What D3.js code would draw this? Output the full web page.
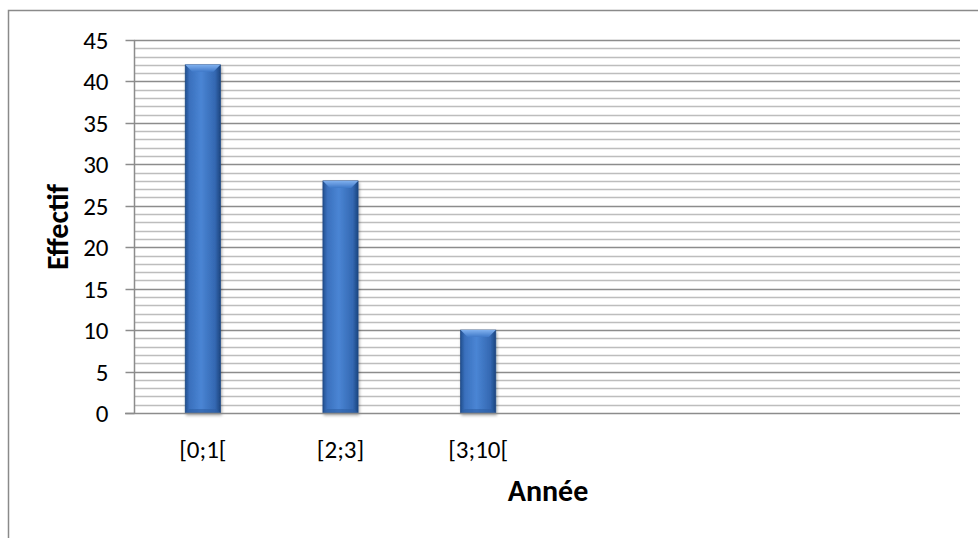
<!DOCTYPE html>
<html><head><meta charset="utf-8">
<script src="https://cdn.jsdelivr.net/npm/d3@7"></script>
<style>
html,body{margin:0;padding:0;background:#fff;}
svg{display:block;}
</style></head>
<body>
<svg id="chart" width="978" height="538"></svg>
<script>
const categories = ["[0;1[", "[2;3]", "[3;10[", "", "", ""];
const values = [42, 28, 10, null, null, null];
const yTicks = [0, 5, 10, 15, 20, 25, 30, 35, 40, 45];
const yTitle = "Effectif";
const xTitle = "Année";

const svg = d3.select("#chart");
const W = 978, H = 538;
const pLeft = 134, pRight = 960, pTop = 40, pBottom = 413;
const font = "Carlito, Calibri, Lato, 'Open Sans', sans-serif";

// outer chart border
svg.append("path").attr("d", `M8.5,${H} L8.5,10.5 L${W},10.5`)
  .attr("fill","none").attr("stroke","#8a8a8a").attr("stroke-width",1.5);

const x = d3.scaleBand().domain(d3.range(categories.length)).range([pLeft, pRight])
  .paddingInner(0.745).paddingOuter(0.3725);
const y = d3.scaleLinear().domain([0, 45]).range([pBottom, pTop]);

// minor gridlines
const minor = d3.range(1, 45).filter(v => v % 5 !== 0);
svg.append("g").selectAll("line").data(minor).join("line")
  .attr("x1", pLeft).attr("x2", pRight)
  .attr("y1", d => Math.round(y(d)) + 0.5).attr("y2", d => Math.round(y(d)) + 0.5)
  .attr("stroke", "#bdbdbd").attr("stroke-width", 1.5);
// major gridlines
svg.append("g").selectAll("line").data(yTicks.filter(v => v > 0)).join("line")
  .attr("x1", pLeft).attr("x2", pRight)
  .attr("y1", d => Math.round(y(d)) + 0.5).attr("y2", d => Math.round(y(d)) + 0.5)
  .attr("stroke", "#8c8c8c").attr("stroke-width", 1.5);

// gradients
const defs = svg.append("defs");
const g1 = defs.append("linearGradient").attr("id","barG").attr("x1","0").attr("x2","1").attr("y1","0").attr("y2","0");
[[0,"#21508f"],[0.12,"#3a70bd"],[0.45,"#4a85d4"],[0.85,"#3468b2"],[1,"#1d4680"]].forEach(s =>
  g1.append("stop").attr("offset", s[0]).attr("stop-color", s[1]));
const g2 = defs.append("linearGradient").attr("id","topG").attr("x1","0").attr("x2","0").attr("y1","0").attr("y2","1");
[[0,"#7fb0ee"],[1,"#3f78c8"]].forEach(s => g2.append("stop").attr("offset", s[0]).attr("stop-color", s[1]));
const shadow = defs.append("filter").attr("id","sh").attr("x","-20%").attr("y","-5%").attr("width","150%").attr("height","115%");
shadow.append("feDropShadow").attr("dx",1).attr("dy",2).attr("stdDeviation",1.5).attr("flood-color","#000").attr("flood-opacity",0.35);

const data = categories.map((c, i) => ({i, c, v: values[i]})).filter(d => d.v != null);
const bars = svg.append("g").selectAll("g").data(data).join("g").attr("filter","url(#sh)");
bars.append("rect")
  .attr("x", d => x(d.i)).attr("width", x.bandwidth())
  .attr("y", d => y(d.v)).attr("height", d => y(0) - y(d.v))
  .attr("fill", "url(#barG)").attr("stroke","#1f4a86").attr("stroke-width",0.8);
// top bevel
bars.append("path").attr("d", d => {
  const x0 = x(d.i), x1 = x0 + x.bandwidth(), yt = y(d.v), b = 7;
  return `M${x0},${yt} L${x1},${yt} L${x1-b},${yt+b} L${x0+b},${yt+b} Z`;
}).attr("fill","url(#topG)");
// bottom bevel
bars.append("path").attr("d", d => {
  const x0 = x(d.i), x1 = x0 + x.bandwidth(), yb = y(0), b = 4;
  return `M${x0},${yb} L${x1},${yb} L${x1-b},${yb-b} L${x0+b},${yb-b} Z`;
}).attr("fill","#2d5fa5").attr("opacity",0.6);

// y axis
const yAxis = d3.axisLeft(y).tickValues(yTicks).tickSize(9).tickPadding(17);
const ya = svg.append("g").attr("transform", `translate(${pLeft + 0.5},0)`).call(yAxis);
ya.attr("font-size", null).attr("font-family", null);
ya.select(".domain").attr("stroke","#8c8c8c").attr("stroke-width",1.5).attr("d", `M0,${pTop}V${pBottom}`);
ya.selectAll(".tick line").attr("stroke","#8c8c8c").attr("stroke-width",1.5);
ya.selectAll(".tick").attr("transform", d => `translate(0,${Math.round(y(d)) + 0.5})`);
ya.selectAll("text").style("font-family", font).style("font-size", "25px").attr("fill","#000");

// x axis
const xAxis = d3.axisBottom(x).tickFormat(i => categories[i]).tickSize(0).tickPadding(27);
const xa = svg.append("g").attr("transform", `translate(0,${pBottom + 0.5})`).call(xAxis);
xa.attr("font-size", null).attr("font-family", null);
xa.select(".domain").attr("stroke","#8c8c8c").attr("stroke-width",1.5).attr("d", `M${pLeft - 9},0H${pRight}`);
xa.selectAll("text").style("font-family", font).style("font-size", "25px").attr("fill","#000");

// titles
svg.append("text").attr("transform","translate(68,227) rotate(-90)")
  .attr("text-anchor","middle").style("font-family",font).attr("font-weight","bold")
  .style("font-size","30px").text(yTitle);
svg.append("text").attr("x", 548).attr("y", 501).attr("text-anchor","middle")
  .style("font-family",font).attr("font-weight","bold").style("font-size","30px").text(xTitle);
</script>
</body></html>
